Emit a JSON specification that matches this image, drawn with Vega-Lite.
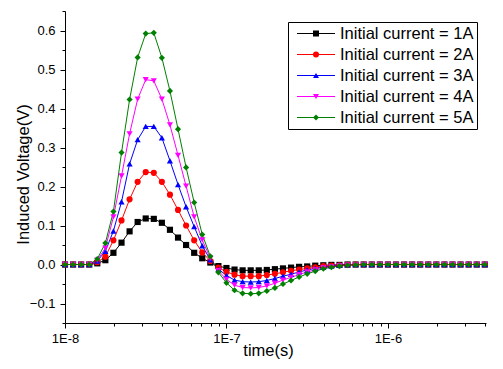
{
"$schema": "https://vega.github.io/schema/vega-lite/v6.json",
"autosize": "none",
"width": 421,
"height": 312,
"padding": {"left": 65, "top": 11, "right": 17, "bottom": 46},
"background": "white",
"datasets": {
"d": [
{"t":1e-8,"c":"1A","v":0},{"t":1.122e-8,"c":"1A","v":0},{"t":1.259e-8,"c":"1A","v":0},{"t":1.413e-8,"c":"1A","v":0},{"t":1.585e-8,"c":"1A","v":0.003},{"t":1.778e-8,"c":"1A","v":0.011},{"t":1.995e-8,"c":"1A","v":0.030},{"t":2.239e-8,"c":"1A","v":0.056},{"t":2.512e-8,"c":"1A","v":0.085},{"t":2.818e-8,"c":"1A","v":0.109},{"t":3.162e-8,"c":"1A","v":0.118},{"t":3.548e-8,"c":"1A","v":0.117},{"t":3.981e-8,"c":"1A","v":0.107},{"t":4.467e-8,"c":"1A","v":0.089},{"t":5.012e-8,"c":"1A","v":0.069},{"t":5.623e-8,"c":"1A","v":0.050},{"t":6.31e-8,"c":"1A","v":0.030},{"t":7.079e-8,"c":"1A","v":0.016},{"t":7.943e-8,"c":"1A","v":0.005},{"t":8.913e-8,"c":"1A","v":-0.004},
{"t":1e-7,"c":"1A","v":-0.009},{"t":1.122e-7,"c":"1A","v":-0.013},{"t":1.259e-7,"c":"1A","v":-0.015},{"t":1.413e-7,"c":"1A","v":-0.015},{"t":1.585e-7,"c":"1A","v":-0.015},{"t":1.778e-7,"c":"1A","v":-0.014},{"t":1.995e-7,"c":"1A","v":-0.012},{"t":2.239e-7,"c":"1A","v":-0.010},{"t":2.512e-7,"c":"1A","v":-0.008},{"t":2.818e-7,"c":"1A","v":-0.006},{"t":3.162e-7,"c":"1A","v":-0.005},{"t":3.548e-7,"c":"1A","v":-0.003},{"t":3.981e-7,"c":"1A","v":-0.002},{"t":4.467e-7,"c":"1A","v":-0.001},{"t":5.012e-7,"c":"1A","v":-0.001},{"t":5.623e-7,"c":"1A","v":0},{"t":6.31e-7,"c":"1A","v":0},{"t":7.079e-7,"c":"1A","v":0},{"t":7.943e-7,"c":"1A","v":0},{"t":8.913e-7,"c":"1A","v":0},
{"t":1e-6,"c":"1A","v":0},{"t":1.122e-6,"c":"1A","v":0},{"t":1.259e-6,"c":"1A","v":0},{"t":1.413e-6,"c":"1A","v":0},{"t":1.585e-6,"c":"1A","v":0},{"t":1.778e-6,"c":"1A","v":0},{"t":1.995e-6,"c":"1A","v":0},{"t":2.239e-6,"c":"1A","v":0},{"t":2.512e-6,"c":"1A","v":0},{"t":2.818e-6,"c":"1A","v":0},{"t":3.162e-6,"c":"1A","v":0},{"t":3.548e-6,"c":"1A","v":0},{"t":3.981e-6,"c":"1A","v":0},

{"t":1e-8,"c":"2A","v":0},{"t":1.122e-8,"c":"2A","v":0},{"t":1.259e-8,"c":"2A","v":0},{"t":1.413e-8,"c":"2A","v":0},{"t":1.585e-8,"c":"2A","v":0.006},{"t":1.778e-8,"c":"2A","v":0.020},{"t":1.995e-8,"c":"2A","v":0.062},{"t":2.239e-8,"c":"2A","v":0.113},{"t":2.512e-8,"c":"2A","v":0.167},{"t":2.818e-8,"c":"2A","v":0.212},{"t":3.162e-8,"c":"2A","v":0.237},{"t":3.548e-8,"c":"2A","v":0.235},{"t":3.981e-8,"c":"2A","v":0.212},{"t":4.467e-8,"c":"2A","v":0.179},{"t":5.012e-8,"c":"2A","v":0.140},{"t":5.623e-8,"c":"2A","v":0.100},{"t":6.31e-8,"c":"2A","v":0.062},{"t":7.079e-8,"c":"2A","v":0.031},{"t":7.943e-8,"c":"2A","v":0.009},{"t":8.913e-8,"c":"2A","v":-0.008},
{"t":1e-7,"c":"2A","v":-0.019},{"t":1.122e-7,"c":"2A","v":-0.026},{"t":1.259e-7,"c":"2A","v":-0.030},{"t":1.413e-7,"c":"2A","v":-0.030},{"t":1.585e-7,"c":"2A","v":-0.030},{"t":1.778e-7,"c":"2A","v":-0.027},{"t":1.995e-7,"c":"2A","v":-0.024},{"t":2.239e-7,"c":"2A","v":-0.020},{"t":2.512e-7,"c":"2A","v":-0.016},{"t":2.818e-7,"c":"2A","v":-0.013},{"t":3.162e-7,"c":"2A","v":-0.010},{"t":3.548e-7,"c":"2A","v":-0.007},{"t":3.981e-7,"c":"2A","v":-0.004},{"t":4.467e-7,"c":"2A","v":-0.003},{"t":5.012e-7,"c":"2A","v":-0.002},{"t":5.623e-7,"c":"2A","v":-0.001},{"t":6.31e-7,"c":"2A","v":0},{"t":7.079e-7,"c":"2A","v":0},{"t":7.943e-7,"c":"2A","v":0},{"t":8.913e-7,"c":"2A","v":0},
{"t":1e-6,"c":"2A","v":0},{"t":1.122e-6,"c":"2A","v":0},{"t":1.259e-6,"c":"2A","v":0},{"t":1.413e-6,"c":"2A","v":0},{"t":1.585e-6,"c":"2A","v":0},{"t":1.778e-6,"c":"2A","v":0},{"t":1.995e-6,"c":"2A","v":0},{"t":2.239e-6,"c":"2A","v":0},{"t":2.512e-6,"c":"2A","v":0},{"t":2.818e-6,"c":"2A","v":0},{"t":3.162e-6,"c":"2A","v":0},{"t":3.548e-6,"c":"2A","v":0},{"t":3.981e-6,"c":"2A","v":0},

{"t":1e-8,"c":"3A","v":0},{"t":1.122e-8,"c":"3A","v":0},{"t":1.259e-8,"c":"3A","v":0},{"t":1.413e-8,"c":"3A","v":0},{"t":1.585e-8,"c":"3A","v":0.009},{"t":1.778e-8,"c":"3A","v":0.034},{"t":1.995e-8,"c":"3A","v":0.086},{"t":2.239e-8,"c":"3A","v":0.161},{"t":2.512e-8,"c":"3A","v":0.258},{"t":2.818e-8,"c":"3A","v":0.320},{"t":3.162e-8,"c":"3A","v":0.354},{"t":3.548e-8,"c":"3A","v":0.354},{"t":3.981e-8,"c":"3A","v":0.325},{"t":4.467e-8,"c":"3A","v":0.266},{"t":5.012e-8,"c":"3A","v":0.205},{"t":5.623e-8,"c":"3A","v":0.148},{"t":6.31e-8,"c":"3A","v":0.097},{"t":7.079e-8,"c":"3A","v":0.048},{"t":7.943e-8,"c":"3A","v":0.012},{"t":8.913e-8,"c":"3A","v":-0.012},
{"t":1e-7,"c":"3A","v":-0.028},{"t":1.122e-7,"c":"3A","v":-0.040},{"t":1.259e-7,"c":"3A","v":-0.044},{"t":1.413e-7,"c":"3A","v":-0.045},{"t":1.585e-7,"c":"3A","v":-0.044},{"t":1.778e-7,"c":"3A","v":-0.041},{"t":1.995e-7,"c":"3A","v":-0.036},{"t":2.239e-7,"c":"3A","v":-0.030},{"t":2.512e-7,"c":"3A","v":-0.025},{"t":2.818e-7,"c":"3A","v":-0.019},{"t":3.162e-7,"c":"3A","v":-0.014},{"t":3.548e-7,"c":"3A","v":-0.010},{"t":3.981e-7,"c":"3A","v":-0.007},{"t":4.467e-7,"c":"3A","v":-0.004},{"t":5.012e-7,"c":"3A","v":-0.002},{"t":5.623e-7,"c":"3A","v":-0.001},{"t":6.31e-7,"c":"3A","v":0},{"t":7.079e-7,"c":"3A","v":0},{"t":7.943e-7,"c":"3A","v":0},{"t":8.913e-7,"c":"3A","v":0},
{"t":1e-6,"c":"3A","v":0},{"t":1.122e-6,"c":"3A","v":0},{"t":1.259e-6,"c":"3A","v":0},{"t":1.413e-6,"c":"3A","v":0},{"t":1.585e-6,"c":"3A","v":0},{"t":1.778e-6,"c":"3A","v":0},{"t":1.995e-6,"c":"3A","v":0},{"t":2.239e-6,"c":"3A","v":0},{"t":2.512e-6,"c":"3A","v":0},{"t":2.818e-6,"c":"3A","v":0},{"t":3.162e-6,"c":"3A","v":0},{"t":3.548e-6,"c":"3A","v":0},{"t":3.981e-6,"c":"3A","v":0},

{"t":1e-8,"c":"4A","v":0},{"t":1.122e-8,"c":"4A","v":0},{"t":1.259e-8,"c":"4A","v":0},{"t":1.413e-8,"c":"4A","v":0},{"t":1.585e-8,"c":"4A","v":0.011},{"t":1.778e-8,"c":"4A","v":0.042},{"t":1.995e-8,"c":"4A","v":0.122},{"t":2.239e-8,"c":"4A","v":0.227},{"t":2.512e-8,"c":"4A","v":0.335},{"t":2.818e-8,"c":"4A","v":0.424},{"t":3.162e-8,"c":"4A","v":0.474},{"t":3.548e-8,"c":"4A","v":0.471},{"t":3.981e-8,"c":"4A","v":0.424},{"t":4.467e-8,"c":"4A","v":0.358},{"t":5.012e-8,"c":"4A","v":0.280},{"t":5.623e-8,"c":"4A","v":0.201},{"t":6.31e-8,"c":"4A","v":0.122},{"t":7.079e-8,"c":"4A","v":0.063},{"t":7.943e-8,"c":"4A","v":0.016},{"t":8.913e-8,"c":"4A","v":-0.016},
{"t":1e-7,"c":"4A","v":-0.038},{"t":1.122e-7,"c":"4A","v":-0.053},{"t":1.259e-7,"c":"4A","v":-0.059},{"t":1.413e-7,"c":"4A","v":-0.060},{"t":1.585e-7,"c":"4A","v":-0.059},{"t":1.778e-7,"c":"4A","v":-0.055},{"t":1.995e-7,"c":"4A","v":-0.048},{"t":2.239e-7,"c":"4A","v":-0.040},{"t":2.512e-7,"c":"4A","v":-0.033},{"t":2.818e-7,"c":"4A","v":-0.026},{"t":3.162e-7,"c":"4A","v":-0.019},{"t":3.548e-7,"c":"4A","v":-0.014},{"t":3.981e-7,"c":"4A","v":-0.009},{"t":4.467e-7,"c":"4A","v":-0.006},{"t":5.012e-7,"c":"4A","v":-0.003},{"t":5.623e-7,"c":"4A","v":-0.002},{"t":6.31e-7,"c":"4A","v":-0.001},{"t":7.079e-7,"c":"4A","v":0},{"t":7.943e-7,"c":"4A","v":0},{"t":8.913e-7,"c":"4A","v":0},
{"t":1e-6,"c":"4A","v":0},{"t":1.122e-6,"c":"4A","v":0},{"t":1.259e-6,"c":"4A","v":0},{"t":1.413e-6,"c":"4A","v":0},{"t":1.585e-6,"c":"4A","v":0},{"t":1.778e-6,"c":"4A","v":0},{"t":1.995e-6,"c":"4A","v":0},{"t":2.239e-6,"c":"4A","v":0},{"t":2.512e-6,"c":"4A","v":0},{"t":2.818e-6,"c":"4A","v":0},{"t":3.162e-6,"c":"4A","v":0},{"t":3.548e-6,"c":"4A","v":0},{"t":3.981e-6,"c":"4A","v":0},

{"t":1e-8,"c":"5A","v":0},{"t":1.122e-8,"c":"5A","v":0},{"t":1.259e-8,"c":"5A","v":0},{"t":1.413e-8,"c":"5A","v":0},{"t":1.585e-8,"c":"5A","v":0.014},{"t":1.778e-8,"c":"5A","v":0.055},{"t":1.995e-8,"c":"5A","v":0.136},{"t":2.239e-8,"c":"5A","v":0.287},{"t":2.512e-8,"c":"5A","v":0.423},{"t":2.818e-8,"c":"5A","v":0.531},{"t":3.162e-8,"c":"5A","v":0.592},{"t":3.548e-8,"c":"5A","v":0.594},{"t":3.981e-8,"c":"5A","v":0.530},{"t":4.467e-8,"c":"5A","v":0.445},{"t":5.012e-8,"c":"5A","v":0.347},{"t":5.623e-8,"c":"5A","v":0.249},{"t":6.31e-8,"c":"5A","v":0.159},{"t":7.079e-8,"c":"5A","v":0.077},{"t":7.943e-8,"c":"5A","v":0.021},{"t":8.913e-8,"c":"5A","v":-0.020},
{"t":1e-7,"c":"5A","v":-0.047},{"t":1.122e-7,"c":"5A","v":-0.066},{"t":1.259e-7,"c":"5A","v":-0.074},{"t":1.413e-7,"c":"5A","v":-0.075},{"t":1.585e-7,"c":"5A","v":-0.074},{"t":1.778e-7,"c":"5A","v":-0.068},{"t":1.995e-7,"c":"5A","v":-0.060},{"t":2.239e-7,"c":"5A","v":-0.050},{"t":2.512e-7,"c":"5A","v":-0.041},{"t":2.818e-7,"c":"5A","v":-0.032},{"t":3.162e-7,"c":"5A","v":-0.024},{"t":3.548e-7,"c":"5A","v":-0.017},{"t":3.981e-7,"c":"5A","v":-0.011},{"t":4.467e-7,"c":"5A","v":-0.007},{"t":5.012e-7,"c":"5A","v":-0.004},{"t":5.623e-7,"c":"5A","v":-0.002},{"t":6.31e-7,"c":"5A","v":-0.001},{"t":7.079e-7,"c":"5A","v":0},{"t":7.943e-7,"c":"5A","v":0},{"t":8.913e-7,"c":"5A","v":0},
{"t":1e-6,"c":"5A","v":0},{"t":1.122e-6,"c":"5A","v":0},{"t":1.259e-6,"c":"5A","v":0},{"t":1.413e-6,"c":"5A","v":0},{"t":1.585e-6,"c":"5A","v":0},{"t":1.778e-6,"c":"5A","v":0},{"t":1.995e-6,"c":"5A","v":0},{"t":2.239e-6,"c":"5A","v":0},{"t":2.512e-6,"c":"5A","v":0},{"t":2.818e-6,"c":"5A","v":0},{"t":3.162e-6,"c":"5A","v":0},{"t":3.548e-6,"c":"5A","v":0},{"t":3.981e-6,"c":"5A","v":0}
]
},
"data": {"name": "d"},
"encoding": {
  "x": {"field": "t", "type": "quantitative",
    "scale": {"type": "log", "domain": [1e-8, 4.05e-6], "nice": false},
    "axis": {"title": "time(s)", "values": [1e-8,2e-8,3e-8,4e-8,5e-8,6e-8,7e-8,8e-8,9e-8,1e-7,2e-7,3e-7,4e-7,5e-7,6e-7,7e-7,8e-7,9e-7,1e-6,2e-6,3e-6,4e-6],
      "labelExpr": "abs(log(datum.value)/LN10 - round(log(datum.value)/LN10)) < 0.001 ? '1E' + round(log(datum.value)/LN10) : ''",
      "tickSize": {"condition": {"test": "abs(log(datum.value)/LN10 - round(log(datum.value)/LN10)) < 0.001", "value": 5}, "value": 3},
      "labelOverlap": false, "labelFlush": false, "labelPadding": 4,
      "titleX": 203, "titleY": 32, "titleBaseline": "alphabetic", "titleAnchor": "middle"}},
  "y": {"field": "v", "type": "quantitative",
    "scale": {"domain": [-0.15, 0.65], "nice": false, "zero": false},
    "axis": {"title": "Induced Voltage(V)", "values": [-0.15,-0.1,-0.05,0,0.05,0.1,0.15,0.2,0.25,0.3,0.35,0.4,0.45,0.5,0.55,0.6,0.65],
      "labelExpr": "abs(datum.value*10 - round(datum.value*10)) < 0.001 ? format(datum.value, '.1f') : ''",
      "tickSize": {"condition": {"test": "abs(datum.value*10 - round(datum.value*10)) < 0.001", "value": 5}, "value": 3},
      "labelOverlap": false, "labelFlush": false, "labelPadding": 5,
      "titleAngle": 270, "titleX": -36.5, "titleY": 163, "titleBaseline": "alphabetic", "titleAlign": "center"}}
},
"layer": [
  {"mark": {"type": "line", "strokeWidth": 1},
   "encoding": {"stroke": {"field": "c", "type": "nominal",
     "scale": {"domain": ["1A","2A","3A","4A","5A"], "range": ["#000000","#ff0000","#0000ff","#ff00ff","#008000"]},
     "legend": {"title": null, "orient": "none", "legendX": 223, "legendY": 11,
         "padding": 3, "strokeColor": "#000000",
         "symbolType": "stroke", "symbolSize": 1444, "symbolStrokeWidth": 1, "symbolOffset": 5.5,
         "labelFont": "Liberation Sans", "labelFontSize": 16.5, "labelColor": "#000000", "labelOffset": 4.5,
         "labelExpr": "'Initial current = ' + datum.label",
         "clipHeight": 17, "rowPadding": 4}}}},
  {"mark": {"type": "point", "filled": true, "size": 38, "opacity": 1},
   "encoding": {
     "color": {"field": "c", "type": "nominal",
       "scale": {"range": ["#000000","#ff0000","#0000ff","#ff00ff","#008000"]},
       "legend": {"title": null, "orient": "none", "legendX": 223, "legendY": 11,
         "padding": 3,
         "symbolSize": 36, "symbolStrokeWidth": 0, "symbolOffset": 16.75,
         "labelFont": "Liberation Sans", "labelFontSize": 16.5, "labelOffset": 4.5,
         "labelExpr": "''",
         "clipHeight": 17, "rowPadding": 4}},
     "shape": {"field": "c", "type": "nominal",
       "scale": {"range": ["square","circle","triangle-up","triangle-down","diamond"]}}
   }}
],
"config": {
  "view": {"stroke": null},
  "font": "Liberation Sans",
  "axis": {"grid": false, "domainColor": "#000000", "domainWidth": 1, "tickColor": "#000000", "tickWidth": 1,
    "labelColor": "#000000", "titleColor": "#000000", "labelFont": "Liberation Sans", "titleFont": "Liberation Sans",
    "labelFontSize": 13, "titleFontSize": 16.5, "titleFontWeight": "normal"}
}
}
